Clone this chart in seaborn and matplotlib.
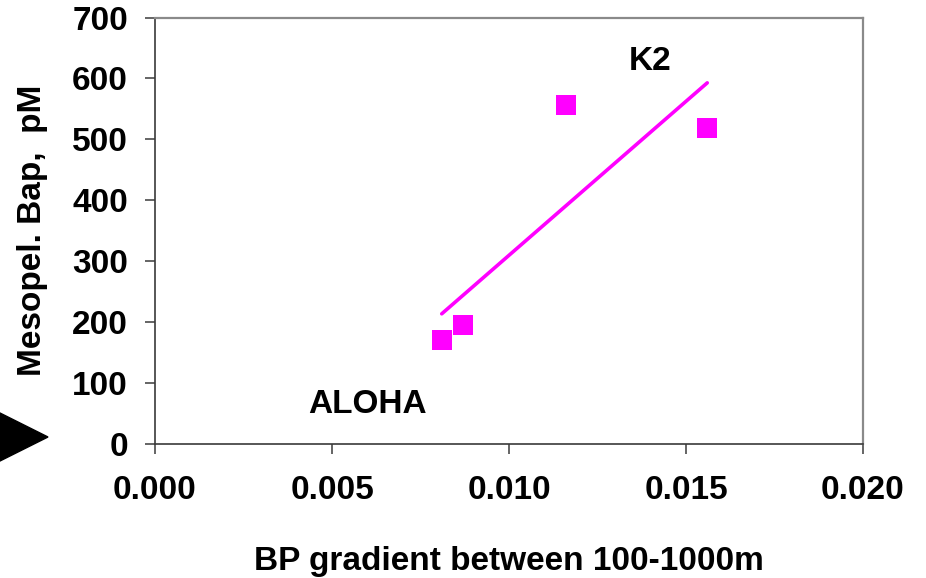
import matplotlib
matplotlib.use("Agg")
import matplotlib.pyplot as plt
from matplotlib.patches import Polygon
import seaborn as sns
import pandas as pd

# Station values: BP gradient (100-1000 m) vs mesopelagic bacterial production
bp_gradient = [0.0081, 0.0087, 0.0116, 0.0156]
mesopel_bap = [170, 195, 557, 519]
x_ticks = [0.000, 0.005, 0.010, 0.015, 0.020]
y_ticks = [0, 100, 200, 300, 400, 500, 600, 700]
station_labels = ["K2", "ALOHA"]
station_label_pos = [(0.0140, 614), (0.0060, 51)]

df = pd.DataFrame({"gradient": bp_gradient, "bap": mesopel_bap})

sns.set_theme(style="white")
plt.rcParams["font.family"] = ["Liberation Sans", "DejaVu Sans"]
plt.rcParams["font.weight"] = "bold"
plt.rcParams["text.color"] = "black"
plt.rcParams["axes.labelcolor"] = "black"

fig = plt.figure(figsize=(9.26, 5.78), dpi=100)
ax = fig.add_axes([155 / 926, 1 - 444 / 578, (863 - 155) / 926, (444 - 17.5) / 578])

magenta = "#FF00FF"
sns.regplot(
    data=df, x="gradient", y="bap", ax=ax, ci=None, marker="s",
    scatter_kws=dict(s=225, color=magenta, linewidths=0, alpha=1),
    line_kws=dict(color=magenta, lw=2.6),
)

ax.set_xlim(0, 0.02)
ax.set_ylim(0, 700)
ax.set_xticks(x_ticks)
ax.set_xticklabels([f"{t:.3f}" for t in x_ticks])
ax.set_yticks(y_ticks)
ax.set_yticklabels([str(t) for t in y_ticks])

for side in ["left", "bottom"]:
    ax.spines[side].set_color("#3a3a3a")
    ax.spines[side].set_linewidth(1.2)
for side in ["top", "right"]:
    ax.spines[side].set_color("#8a8a8a")
    ax.spines[side].set_linewidth(1.6)

ax.tick_params(axis="both", direction="out", length=7.5, width=1.1,
               color="#3a3a3a", labelcolor="black", labelsize=24,
               bottom=True, left=True)
ax.tick_params(axis="x", pad=15)
ax.tick_params(axis="y", pad=12)
for lab in ax.get_xticklabels() + ax.get_yticklabels():
    lab.set_fontweight("bold")

ax.set_xlabel("BP gradient between 100-1000m", fontsize=24, fontweight="bold", color="black")
ax.set_ylabel("Mesopel. Bap,  pM", fontsize=24, fontweight="bold", color="black")
ax.xaxis.set_label_coords(0.5, -(570 - 444) / 426.5)
ax.xaxis.label.set_va("baseline")
ax.yaxis.set_label_coords(-0.173, 0.5)
ax.yaxis.label.set_va("center")

for text, (tx, ty) in zip(station_labels, station_label_pos):
    ax.text(tx, ty, text, fontsize=24, fontweight="bold",
            ha="center", va="baseline", color="black")

# Pointer arrowhead at the left edge next to the zero line
tri = Polygon([(-2 / 926, 1 - 412 / 578), (48 / 926, 1 - 437 / 578), (-2 / 926, 1 - 462 / 578)],
              closed=True, transform=fig.transFigure, color="black", clip_on=False)
fig.patches.append(tri)

fig.savefig("out.png", dpi=100)
